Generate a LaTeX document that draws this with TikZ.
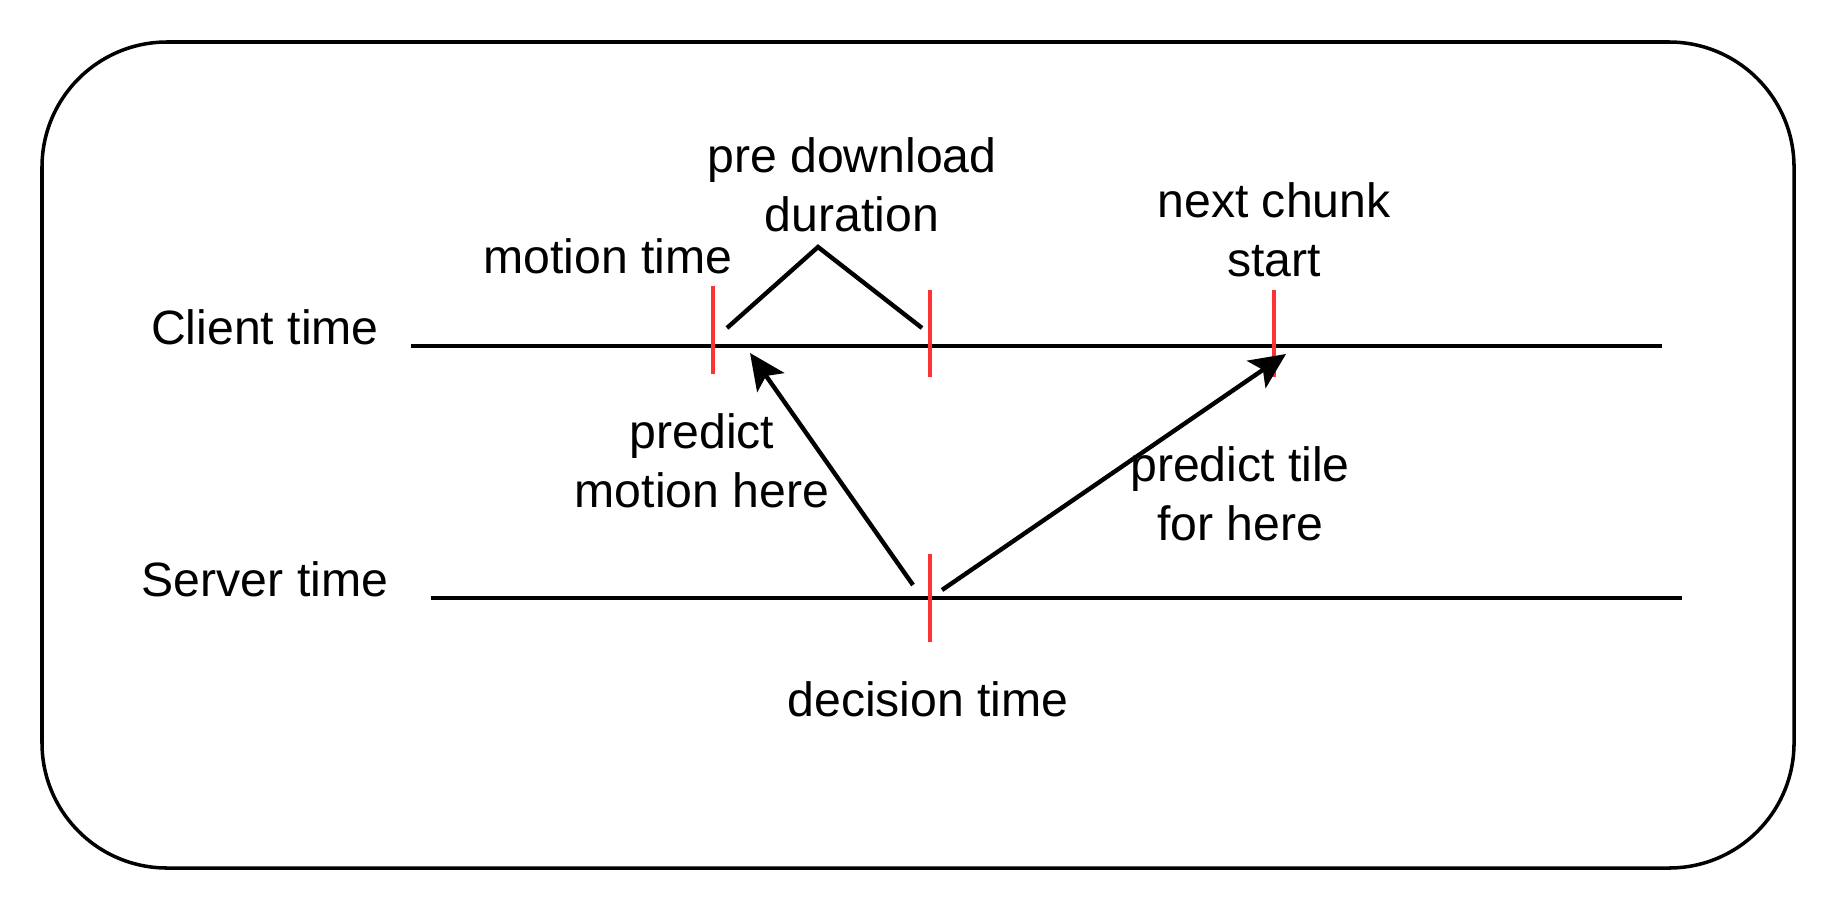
\documentclass[tikz,border=0pt]{standalone}
\usepackage{fontspec}
\setmainfont{Liberation Sans}
\usepackage{xcolor}
\usetikzlibrary{positioning,arrows.meta}
\definecolor{tickred}{HTML}{FF3333}

\begin{document}
\begin{tikzpicture}[x=0.01cm, y=-0.01cm, node distance = 0.3em]
            \tikzstyle{txt} = [font=\fontsize{13.7}{16.7}\selectfont, align=center, inner sep=0pt]
            \tikzstyle{timeline} = [line width=1.25pt, black]
            \tikzstyle{tickline} = [line width=1.1pt, tickred]
            \tikzstyle{predict} = [line width=1.25pt, -{Stealth[length=0.36cm, width=0.33cm, inset=0.08cm]}]
            \useasboundingbox (0,0) rectangle (1840,912);
            \draw [line width=1pt, rounded corners=1.25cm] (42,42) rectangle (1794,868);

            \node [txt] (client) at (265,327) {Client time};
            \node [txt] (server) at (265,579) {Server time};

            \coordinate (C0) at (411,346);
            \coordinate (C1) at (1662,346);
            \coordinate (S0) at (431,598);
            \coordinate (S1) at (1682,598);

            \coordinate (M0) at (713,286);
            \coordinate (M1) at (713,374);
            \coordinate (P0) at (930,290);
            \coordinate (P1) at (930,377);
            \coordinate (N0) at (1274,290);
            \coordinate (N1) at (1274,377);
            \coordinate (D0) at (930,554);
            \coordinate (D1) at (930,642);

            \coordinate (B0) at (727,328);
            \coordinate (B1) at (818,247);
            \coordinate (B2) at (922,328);

            \coordinate (A0) at (913,585);
            \coordinate (A1) at (750,353);
            \coordinate (A2) at (942,590);
            \coordinate (A3) at (1286,354);

            \node [txt] (motion) at (608,256) {motion time};
            \node [txt] (predl) at (852,185) {pre download\\duration};
            \node [txt] (chunk) at (1274,230) {next chunk\\start};
            \node [txt] (predm) at (702,461) {predict\\motion here};
            \node [txt] (predt) at (1240,494) {predict tile\\for here};
            \node [txt] (decision) at (928,699) {decision time};

            \draw [timeline] (C0) to (C1);
            \draw [timeline] (S0) to (S1);
            \draw [tickline] (M0) to (M1);
            \draw [tickline] (P0) to (P1);
            \draw [tickline] (N0) to (N1);
            \draw [tickline] (D0) to (D1);
            \draw [timeline] (B0) -- (B1) -- (B2);
            \draw [predict] (A0) to (A1);
            \draw [predict] (A2) to (A3);
        \end{tikzpicture}
\end{document}
